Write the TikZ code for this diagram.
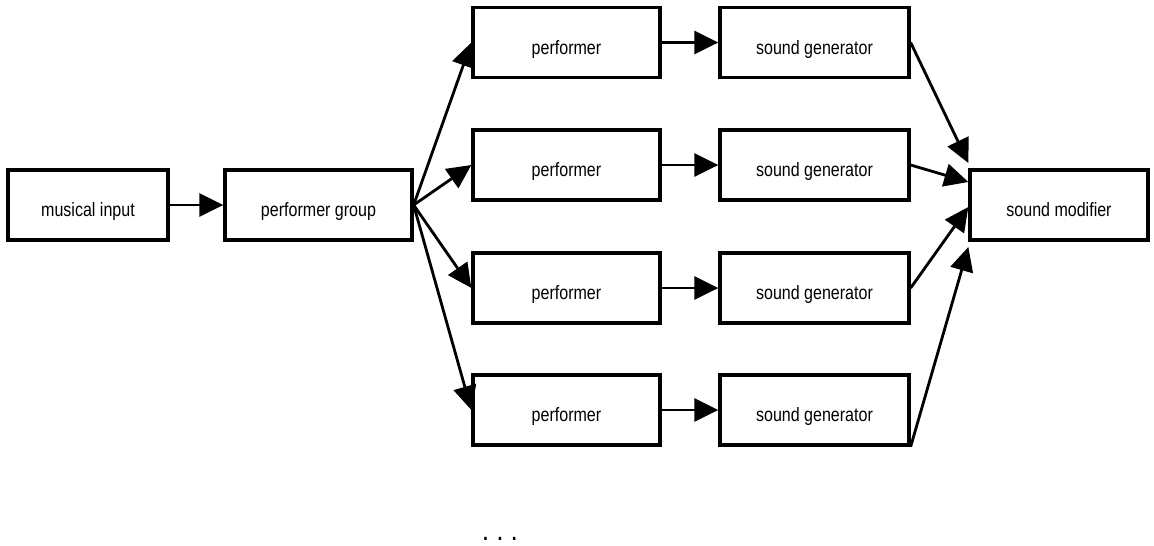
\documentclass[tikz,border=0pt]{standalone}
\usepackage{fontspec}
\newfontfamily\boxfont[FakeStretch=0.83]{Liberation Sans}
\usetikzlibrary{arrows.meta,calc}

\begin{document}
\begin{tikzpicture}[x=0.02cm, y=-0.02cm, > = {Triangle[length=0.48cm, width=0.46cm]},
    block/.style = {draw, line width=1.9pt, minimum height=1.4cm, minimum width=3.74cm, inner sep=0pt, text height=13.5pt, text depth=0pt, font=\boxfont\fontsize{11}{13}\selectfont},
    link/.style = {line width=1.6pt, ->}]

    \useasboundingbox (0,0) rectangle (1154,545);

    % input and output
    \node[block, minimum width=3.2cm] (input) at (88,205) {musical input};
    \node[block] (group) at (318.5,205) {performer group};
    \node[block, minimum width=3.56cm] (modifier) at (1059,205) {sound modifier};

    % performers and generators
    \foreach \i/\y in {1/42.5, 2/165, 3/288, 4/410} {
        \node[block] (perf\i) at (566.5,\y) {performer};
        \node[block, minimum width=3.78cm] (gen\i) at (814.5,\y) {sound generator};
        \draw[link] (group.east) -- (perf\i.west);
        \draw[link] (perf\i.east) -- (gen\i.west);
    }

    % connections
    \draw[link] (input) -- (group);
    \draw[link] (gen1.east) -- ($(modifier.west)+(0,-42)$);
    \draw[link] (gen2.east) -- ($(modifier.west)+(0,-23)$);
    \draw[link] (gen3.east) -- ($(modifier.west)+(0,2)$);
    \draw[link] (gen4.south east) -- ($(modifier.west)+(0,42)$);

    \node[font=\boxfont\bfseries\fontsize{12}{14}\selectfont] (more) at (500,539) {.\hspace{0.19cm}.\hspace{0.19cm}.};
\end{tikzpicture}
\end{document}
